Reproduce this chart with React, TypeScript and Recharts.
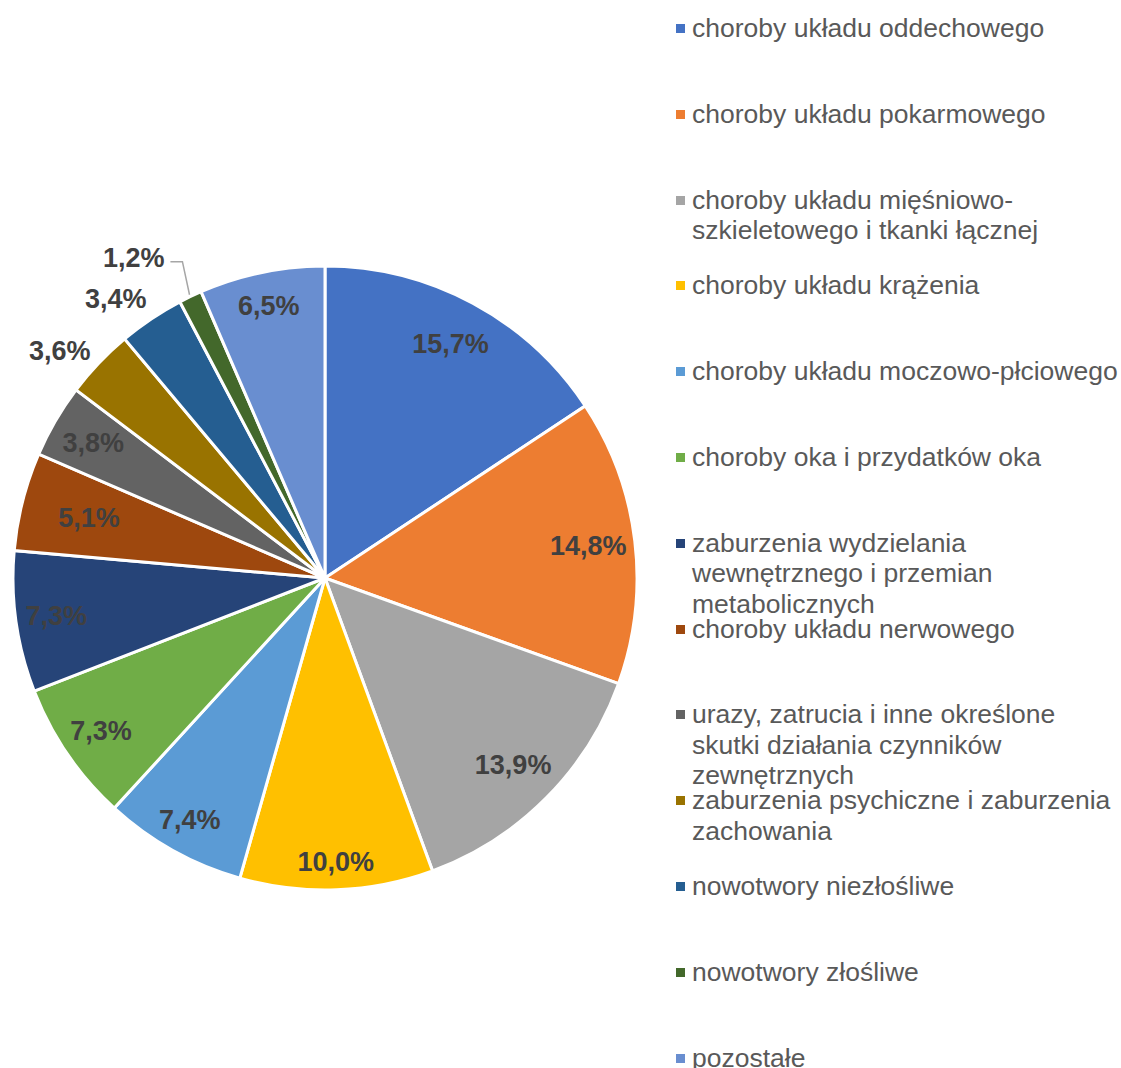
import { PieChart, Pie, Cell, Legend } from 'recharts';

const categories = [
  'choroby układu oddechowego',
  'choroby układu pokarmowego',
  'choroby układu mięśniowo-\nszkieletowego i tkanki łącznej',
  'choroby układu krążenia',
  'choroby układu moczowo-płciowego',
  'choroby oka i przydatków oka',
  'zaburzenia wydzielania\nwewnętrznego i przemian\nmetabolicznych',
  'choroby układu nerwowego',
  'urazy, zatrucia i inne określone\nskutki działania czynników\nzewnętrznych',
  'zaburzenia psychiczne i zaburzenia\nzachowania',
  'nowotwory niezłośliwe',
  'nowotwory złośliwe',
  'pozostałe',
];

const shares = [15.7, 14.8, 13.9, 10.0, 7.4, 7.3, 7.3, 5.1, 3.8, 3.6, 3.4, 1.2, 6.5];

const colors = [
  '#4472C4', '#ED7D31', '#A5A5A5', '#FFC000', '#5B9BD5', '#70AD47',
  '#264478', '#9E480E', '#636363', '#997300', '#255E91', '#43682B', '#698ED0',
];

// where each data label sits: inside the slice, outside, or outside with a leader line
const labelPlace = ['in', 'in', 'in', 'in', 'in', 'in', 'in', 'in', 'in', 'out', 'out', 'leader', 'in'];
// inside labels: distance from centre as a share of the radius
const labelDepth = [0.85, 0.85, 0.85, 0.91, 0.89, 0.87, 0.87, 0.78, 0.86, 1, 1, 1, 0.89];

const data = categories.map((name, i) => ({ name, value: shares[i] }));

const RAD = Math.PI / 180;
const polar = (cx: number, cy: number, r: number, angle: number) => ({
  x: cx + Math.cos(-angle * RAD) * r,
  y: cy + Math.sin(-angle * RAD) * r,
});

const fmt = (v: number) => v.toFixed(1).replace('.', ',') + '%';

const FONT = '"Liberation Sans", Arial, sans-serif';

const renderLabel = (props: any) => {
  const { cx, cy, midAngle, outerRadius, index, value } = props;
  const place = labelPlace[index];
  const style = { fontFamily: FONT, fontWeight: 700, fontSize: 27, fill: '#404040' };
  if (place === 'in') {
    const p = polar(cx, cy, outerRadius * labelDepth[index], midAngle);
    return (
      <text x={p.x} y={p.y} textAnchor="middle" dominantBaseline="central" style={style}>
        {fmt(value)}
      </text>
    );
  }
  if (place === 'out') {
    const p = polar(cx, cy, outerRadius + 37, midAngle + 3);
    return (
      <text x={p.x} y={p.y} textAnchor="middle" dominantBaseline="central" style={style}>
        {fmt(value)}
      </text>
    );
  }
  const a = polar(cx, cy, outerRadius + 2, midAngle);
  const b = polar(cx, cy, outerRadius + 35, midAngle - 1.3);
  return (
    <g>
      <polyline
        points={`${a.x},${a.y} ${b.x},${b.y} ${b.x - 12},${b.y}`}
        fill="none"
        stroke="#A6A6A6"
        strokeWidth={1.5}
      />
      <text x={b.x - 18} y={b.y - 4} textAnchor="end" dominantBaseline="central" style={style}>
        {fmt(value)}
      </text>
    </g>
  );
};

const LegendBox = () => (
  <div style={{ position: 'relative', width: 445, height: 1068 }}>
    {categories.map((name, i) => (
      <div
        key={name}
        style={{
          position: 'absolute',
          left: 0,
          top: 28 + 85.8 * i - 15,
          display: 'flex',
          alignItems: 'flex-start',
        }}
      >
        <span
          style={{
            width: 9,
            height: 9,
            background: colors[i],
            marginTop: 11,
            marginRight: 7,
            flex: 'none',
          }}
        />
        <span
          style={{
            whiteSpace: 'pre',
            fontFamily: FONT,
            fontSize: 26.5,
            lineHeight: '30.5px',
            color: '#595959',
          }}
        >
          {name}
        </span>
      </div>
    ))}
  </div>
);

export default function App() {
  return (
    <div
      style={{
        position: 'absolute',
        left: 0,
        top: 0,
        width: 1121,
        height: 1068,
        background: '#fff',
        overflow: 'hidden',
      }}
    >
      <PieChart width={1121} height={1068} margin={{ top: 0, right: 0, bottom: 0, left: 0 }}>
        <Pie
          data={data}
          dataKey="value"
          nameKey="name"
          cx={325}
          cy={578}
          outerRadius={312}
          startAngle={90}
          endAngle={-270}
          stroke="#fff"
          strokeWidth={3}
          label={renderLabel}
          labelLine={false}
          isAnimationActive={false}
        >
          {data.map((d, i) => (
            <Cell key={d.name} fill={colors[i]} />
          ))}
        </Pie>
        <Legend
          content={<LegendBox />}
          wrapperStyle={{ position: 'absolute', left: 676, top: 0, width: 445, height: 1068 }}
        />
      </PieChart>
    </div>
  );
}
